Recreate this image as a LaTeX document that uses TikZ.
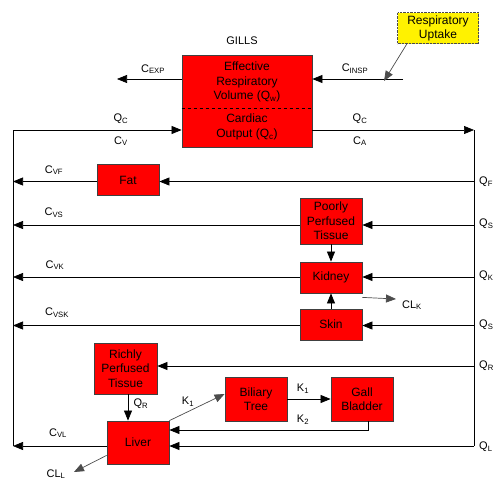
\documentclass[tikz,border=0pt]{standalone}
\usepackage{fontspec}
\setmainfont{Liberation Sans}
\usetikzlibrary{arrows.meta}
\tikzset{
  organ/.style={draw=black!75, fill=red, line width=0.8pt, align=center, inner sep=0pt,
    font=\fontsize{12}{14.5}\selectfont},
  flow/.style={-{Triangle[length=10pt,width=8pt]}, line width=0.7pt},
  lbl/.style={inner sep=0pt, font=\fontsize{11}{13}\selectfont},
}
\begin{document}
\begin{tikzpicture}[x=1pt,y=-1pt]
        \useasboundingbox (0,0) rectangle (493,482);
        \node[organ, minimum width=130pt, minimum height=92pt] (gills) at (247,101) {};
        \node[align=center, inner sep=0pt, font=\fontsize{12}{14.5}\selectfont] (resp) at (247,82)
          {Effective\\Respiratory\\Volume (Q\textsubscript{w})};
        \node[align=center, inner sep=0pt, font=\fontsize{12}{15}\selectfont] (card) at (247,127)
          {Cardiac\\Output (Q\textsubscript{c})};
        \draw[dashed, line width=0.8pt] ([yshift=-7pt]gills.west) -- ([yshift=-7pt]gills.east);
        \node[font=\fontsize{11}{13}\selectfont] (gilllbl) at (242,41) {GILLS};
        \node[draw=black!70, densely dotted, fill=yellow, align=center, inner sep=0pt,
          minimum width=81pt, minimum height=31pt, font=\fontsize{12}{14}\selectfont]
          (uptake) at (438,28) {Respiratory\\Uptake};
        \node[organ, minimum width=62pt, minimum height=31pt] (fat) at (128,180) {Fat};
        \node[organ, minimum width=62pt, minimum height=46pt] (poor) at (331,221) {Poorly\\Perfused\\Tissue};
        \node[organ, minimum width=62pt, minimum height=31pt] (kidney) at (331,277.5) {Kidney};
        \node[organ, minimum width=62pt, minimum height=31pt] (skin) at (331,324.5) {Skin};
        \node[organ, minimum width=63pt, minimum height=51pt] (rich) at (125.5,368.5) {Richly\\Perfused\\Tissue};
        \node[organ, minimum width=62pt, minimum height=43pt] (liver) at (138,442.5) {Liver};
        \node[organ, minimum width=62pt, minimum height=44pt] (biliary) at (256,399) {Biliary\\Tree};
        \node[organ, minimum width=62pt, minimum height=44pt] (gall) at (362,399) {Gall\\Bladder};
        \coordinate (insp) at (403,79);
        \coordinate (exp) at (117,79);
        \coordinate (lTop) at (13,130);
        \coordinate (rTop) at (474,130);
        \coordinate (lBot) at (13,446);
        \coordinate (rBot) at (474,446);
        \coordinate (clk) at (396,299);
        \coordinate (cll) at (74,472);
        \coordinate (k2) at (368,430);
        \draw[line width=0.7pt] (lTop) -- (lBot);
        \draw[line width=0.7pt] (rTop) -- (rBot);
        \draw[flow] (insp) -- (insp -| gills.east);
        \draw[flow] (exp -| gills.west) -- (exp);
        \draw[flow, black!70] ([xshift=-31pt]uptake.south) -- ([xshift=-19pt,yshift=-2pt]insp);
        \draw[flow] (lTop) -- (lTop -| gills.west);
        \draw[flow] (gills.east |- rTop) -- (rTop);
        \foreach \org/\y in {fat/181.5, poor/225, kidney/277, skin/325.5} {
          \draw[flow] (474,\y) -- (\org.east |- 0,\y);
          \draw[flow] (\org.west |- 0,\y) -- (13,\y);
        }
        \draw[flow] (474,366) -- (rich.east |- 0,366);
        \draw[flow] (rBot) -- (rBot -| liver.east);
        \draw[flow] (liver.west |- lBot) -- (lBot);
        \draw[flow] (poor) -- (kidney);
        \draw[flow] (skin) -- (kidney);
        \draw[flow, black!70] ([yshift=-4pt]kidney.south east) -- (clk);
        \draw[flow] ([xshift=2.5pt]rich.south) -- ([xshift=2.5pt]rich.south |- liver.north);
        \draw[flow, black!70] (liver.north east) -- ([yshift=5pt]biliary.west);
        \draw[flow] (biliary) -- (gall);
        \draw[flow] ([xshift=6pt]gall.south) -- (k2) -- (k2 -| liver.east);
        \draw[flow, black!70] ([yshift=9pt]liver.south west) -- (cll);
        \node[lbl] (cexp) at (153,69) {C\textsubscript{EXP}};
        \node[lbl] (cinsp) at (355,69) {C\textsubscript{INSP}};
        \node[lbl] (qcl) at (121,119) {Q\textsubscript{C}};
        \node[lbl] (cv) at (121,141) {C\textsubscript{V}};
        \node[lbl] (qcr) at (360,119) {Q\textsubscript{C}};
        \node[lbl] (ca) at (360,141) {C\textsubscript{A}};
        \node[lbl] (cvf) at (54,170) {C\textsubscript{VF}};
        \node[lbl] (cvs) at (54,213) {C\textsubscript{VS}};
        \node[lbl] (cvk) at (55,265) {C\textsubscript{VK}};
        \node[lbl] (cvsk) at (57,313) {C\textsubscript{VSK}};
        \node[lbl] (cvl) at (58,433) {C\textsubscript{VL}};
        \foreach \q/\y in {F/182, S/224, K/276, S/325, R/366, L/447} {
          \node[lbl, anchor=west] at (479,\y) {Q\textsubscript{\q}};
        }
        \node[lbl] (clklbl) at (412,305) {CL\textsubscript{K}};
        \node[lbl] (clllbl) at (56,474) {CL\textsubscript{L}};
        \node[lbl] (qr) at (141,404) {Q\textsubscript{R}};
        \node[lbl] (k1a) at (188,402) {K\textsubscript{1}};
        \node[lbl] (k1b) at (303,389) {K\textsubscript{1}};
        \node[lbl] (k2lbl) at (303,420) {K\textsubscript{2}};
      \end{tikzpicture}
\end{document}
